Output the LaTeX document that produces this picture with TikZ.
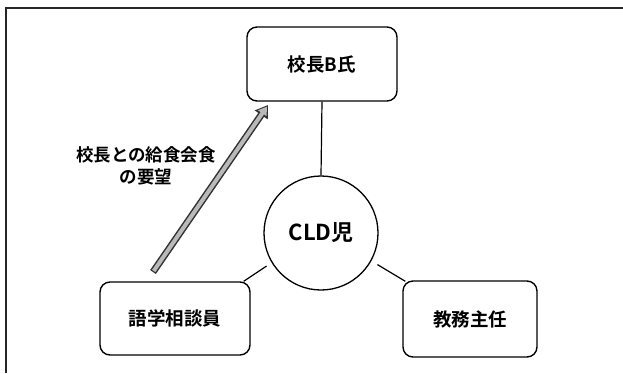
\documentclass[tikz,border=0pt]{standalone}
\usepackage{fontspec}
\setmainfont{Noto Sans CJK JP}[BoldFont={Noto Sans CJK JP Bold}]
\usetikzlibrary{arrows.meta,calc}
\begin{document}
\begin{tikzpicture}[x=1pt,y=-1pt,
  frame/.style={line width=1.4pt, draw=black!85},
  box/.style={draw, line width=1.4pt, rounded corners=10pt, font=\bfseries\fontsize{18.5}{20}\selectfont, inner sep=0pt},
  circ/.style={draw, circle, line width=1.3pt, minimum size=114pt, inner sep=0pt, font=\bfseries\fontsize{22}{24}\selectfont},
  conn/.style={line width=1.2pt},
  lbl/.style={align=center, font=\bfseries\fontsize{17.5}{22}\selectfont, inner sep=0pt}]
\useasboundingbox (0,0) rectangle (623,373);
\fill[white] (0,0) rectangle (623,373);
\draw[frame] (6,373) -- (6,8) -- (623,8);
\node[box, minimum width=150pt, minimum height=74pt] (b) at (322,64) {校長B氏};
\node[circ] (c) at (321,233) {CLD児};
\node[box, minimum width=150pt, minimum height=73pt] (l) at (175,318.5) {語学相談員};
\node[box, minimum width=134pt, minimum height=76pt] (r) at (470,319) {教務主任};
\draw[conn] (b.south) -- (c.north);
\draw[conn, shorten >=6pt] ($(l.north east)+(-7,0)$) -- (c.211);
\draw[conn, shorten >=7pt] ($(r.north west)+(3,1)$) -- (c.331);
\coordinate (at) at (153,272);
\coordinate (ah) at (268,105);
\draw[line width=7pt, black!80, -{Triangle[length=12pt,width=15pt]}] (at) -- (ah);
\draw[line width=4pt, gray!55, shorten <=1.3pt, shorten >=2pt, -{Triangle[length=8pt,width=10pt]}] (at) -- (ah);
\node[lbl] (lab) at (146,166) {校長との給食会食\\の要望};
\end{tikzpicture}
\end{document}
